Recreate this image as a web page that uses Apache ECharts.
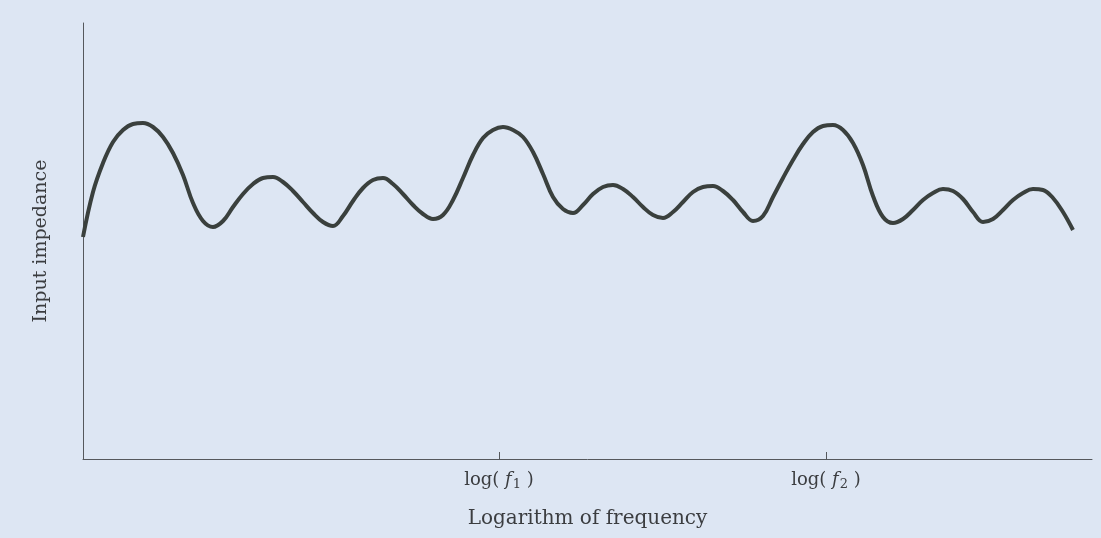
<!DOCTYPE html>
<html>
<head>
<meta charset="utf-8">
<script src="https://cdn.jsdelivr.net/npm/echarts@6/dist/echarts.min.js"></script>
<style>
  html, body { margin: 0; padding: 0; background: #dde6f3; }
  #main { width: 1101px; height: 538px; }
</style>
</head>
<body>
<div id="main"></div>
<script>
// log frequency (arbitrary units from the origin) and impedance (arbitrary units)
var logFreq = [
  0.0, 0.1, 0.2, 0.3, 0.4, 0.5, 0.6, 0.7, 0.8, 0.9,
  1.0, 1.1, 1.2, 1.3, 1.4, 1.5, 1.6, 1.7, 1.8, 1.9,
  2.0, 2.1, 2.2, 2.3, 2.4, 2.5, 2.6, 2.7, 2.8, 2.9,
  3.0, 3.1, 3.2, 3.3, 3.4, 3.5, 3.6, 3.7, 3.8, 3.9,
  4.0, 4.1, 4.2, 4.3, 4.4, 4.5, 4.6, 4.7, 4.8, 4.9,
  5.0, 5.1, 5.2, 5.3, 5.4, 5.5, 5.6, 5.7, 5.8, 5.9,
  6.0, 6.1, 6.2, 6.3, 6.4, 6.5, 6.6, 6.7, 6.8, 6.9,
  7.0, 7.1, 7.2, 7.3, 7.4, 7.5, 7.6, 7.7, 7.8, 7.9,
  8.0, 8.1, 8.2, 8.3, 8.4, 8.5, 8.6, 8.7, 8.8, 8.9,
  9.0, 9.1, 9.2, 9.3, 9.4, 9.5, 9.6, 9.7, 9.8, 9.9];
var impedance = [
  222, 267, 296, 317, 329, 335, 336, 332, 322, 306,
  284, 256, 238, 232, 238, 252, 265, 275, 281, 282,
  277, 268, 257, 246, 237, 233, 243, 258, 271, 279,
  281, 275, 265, 254, 245, 240, 244, 259, 281, 304,
  321, 329, 332, 329, 322, 307, 285, 262, 250, 246,
  254, 265, 272, 274, 270, 262, 252, 244, 241, 247,
  257, 267, 272, 273, 268, 259, 247, 238, 243, 262,
  281, 299, 315, 327, 333, 334, 329, 316, 294, 263,
  242, 236, 240, 249, 259, 266, 270, 268, 260, 247,
  237, 240, 249, 259, 266, 270, 269, 261, 247, 229];
// tick positions for log(f1), log(f2)
var tickValues = [4.16, 7.43];
var tickNames = ['1', '2'];

var chart = echarts.init(document.getElementById('main'));
var txt = '#3b3d40';
var serif = '"DejaVu Serif", "Liberation Serif", serif';

var points = logFreq.map(function (x, i) { return [x, impedance[i]]; });

chart.setOption({
  backgroundColor: '#dde6f3',
  animation: false,
  grid: { left: 83, right: 9, top: 23, bottom: 79 },
  xAxis: {
    type: 'value',
    min: 0,
    max: 10.09,
    name: 'Logarithm of frequency',
    nameLocation: 'middle',
    nameGap: 50,
    nameTextStyle: { fontFamily: serif, fontSize: 20, color: txt },
    axisLine: { lineStyle: { color: '#55585c', width: 1 } },
    axisTick: { show: true, inside: true, length: 7, customValues: tickValues, lineStyle: { color: '#55585c' } },
    axisLabel: {
      customValues: tickValues,
      margin: 11,
      formatter: function (v) {
        var k = tickValues.indexOf(v);
        return 'log( ' + '{i|f}{s|' + tickNames[k] + '} )';
      },
      fontFamily: serif,
      fontSize: 18,
      color: txt,
      rich: {
        i: { fontFamily: serif, fontStyle: 'italic', fontSize: 18, color: txt },
        s: { fontFamily: serif, fontSize: 13, color: txt, verticalAlign: 'bottom', padding: [8, 0, 0, 1] }
      }
    },
    splitLine: { show: false }
  },
  yAxis: {
    type: 'value',
    min: 0,
    max: 436,
    name: 'Input impedance',
    nameLocation: 'middle',
    nameGap: 32,
    nameTextStyle: { fontFamily: serif, fontSize: 19, color: txt },
    axisLine: { show: true, lineStyle: { color: '#55585c', width: 1 } },
    axisTick: { show: false },
    axisLabel: { show: false },
    splitLine: { show: false }
  },
  series: [{
    type: 'line',
    data: points,
    smooth: 0.4,
    symbol: 'none',
    lineStyle: { color: '#3a403d', width: 4 }
  }]
});
</script>
</body>
</html>
